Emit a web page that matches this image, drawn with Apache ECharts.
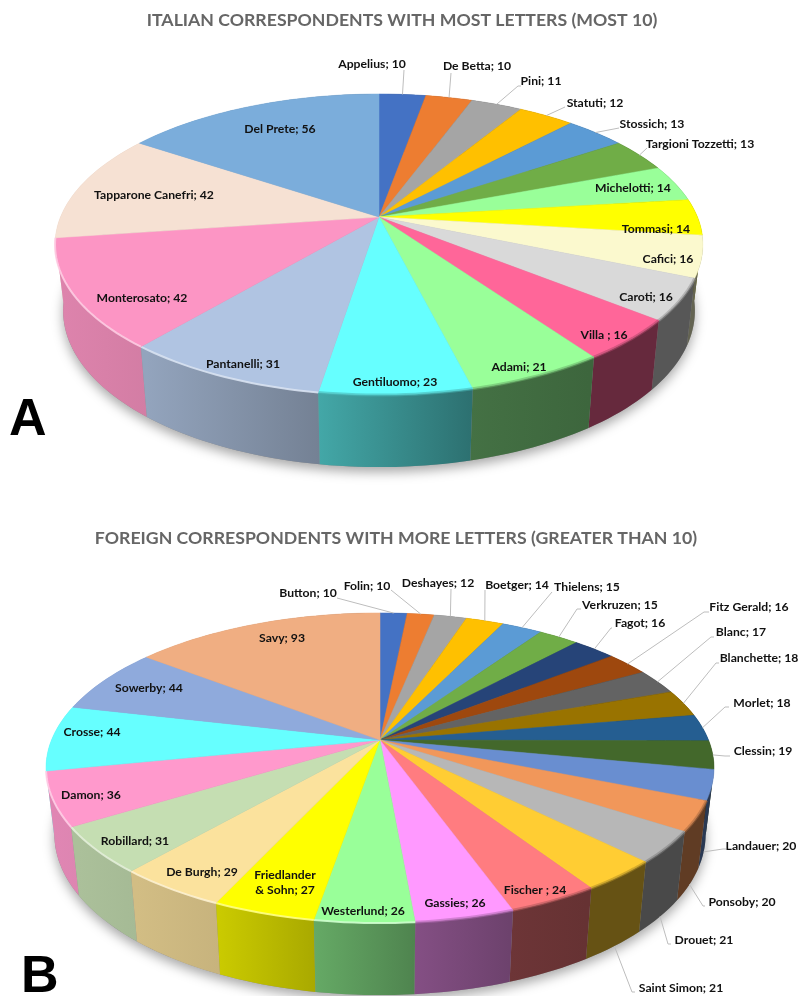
<!DOCTYPE html>
<html>
<head>
<meta charset="utf-8">
<title>Correspondents</title>
<script src="https://cdn.jsdelivr.net/npm/echarts@6/dist/echarts.min.js"></script>
<style>
  html, body { margin: 0; padding: 0; background: #fff; }
  #chart { width: 808px; height: 996px; }
</style>
</head>
<body>
<div id="chart"></div>
<script>
// chart A data, clockwise from 12 o'clock
const namesA = ['Appelius', 'De Betta', 'Pini', 'Statuti', 'Stossich', 'Targioni Tozzetti', 'Michelotti', 'Tommasi',
  'Cafici', 'Caroti', 'Villa ', 'Adami', 'Gentiluomo', 'Pantanelli', 'Monterosato', 'Tapparone Canefri', 'Del Prete'];
const valuesA = [10, 10, 11, 12, 13, 13, 14, 14, 16, 16, 16, 21, 23, 31, 42, 42, 56];
const colorsA = ['#4472C4', '#ED7D31', '#A5A5A5', '#FFC000', '#5B9BD5', '#70AD47', '#99FF99', '#FFFF00',
  '#FBF9CE', '#D9D9D9', '#FF6699', '#99FF99', '#66FFFF', '#B0C4E2', '#FC95C4', '#F6E1D3', '#7BADDB'];

// chart B data
const namesB = ['Button', 'Folin', 'Deshayes', 'Boetger', 'Thielens', 'Verkruzen', 'Fagot', 'Fitz Gerald', 'Blanc',
  'Blanchette', 'Morlet', 'Clessin', 'Landauer', 'Ponsoby', 'Drouet', 'Saint Simon', 'Fischer ', 'Gassies', 'Westerlund',
  'Friedlander\n& Sohn', 'De Burgh', 'Robillard', 'Damon', 'Crosse', 'Sowerby', 'Savy'];
const valuesB = [10, 10, 12, 14, 15, 15, 16, 16, 17, 18, 18, 19, 20, 20, 21, 21, 24, 26, 26, 27, 29, 31, 36, 44, 44, 93];
const colorsB = ['#4472C4', '#ED7D31', '#A5A5A5', '#FFC000', '#5B9BD5', '#70AD47', '#264478', '#9E480E', '#636363',
  '#997300', '#255E91', '#43682B', '#698ED0', '#F1975A', '#B7B7B7', '#FFCD33', '#FF7C80', '#FF99FF', '#99FF99',
  '#FFFF00', '#FBE29D', '#C5DEB2', '#FF99CC', '#66FFFF', '#8FAADC', '#F0AE82'];

// label centres in page pixels
const labelPosA = [[372, 64], [477, 66], [541, 81], [595, 103], [652, 124], [700, 144], [633, 188], [656, 229],
  [668, 259], [646, 297], [604, 335], [519, 367], [395, 382], [243, 364], [142, 298], [154, 195], [280, 129]];
const labelPosB = [[308, 593], [367, 586], [438, 583], [517, 585], [587, 587], [620, 605], [640, 623], [749, 607],
  [741, 632], [759, 658], [762, 703], [763, 751], [761, 846], [742, 902], [704, 940], [681, 988], [535, 890], [455, 903],
  [363, 911], [285, 883], [202, 872], [135, 841], [91, 795], [92, 732], [149, 688], [282, 638]];

// leader line bends, null = label sits on the slice
const leadersA = [[[404, 70]], [[451, 73]], [[518, 86], [521, 86]], [[565, 107]], [[619, 128]], [[647, 148]],
  null, null, null, null, null, null, null, null, null, null, null];
const leadersB = [[[337, 598]], [[391, 590]], [[451, 589]], [[485, 590]], [[552, 592]], [[577, 609], [581, 609]],
  [[611, 628], [612, 628]], [[704, 612], [709, 612]], [[711, 637], [714, 637]], [[716, 663], [719, 663]],
  [[725, 707], [729, 707]], [[725, 756], [730, 756]], [[723, 849], [726, 849]], [[703, 906], [705, 906]],
  [[668, 944], [671, 944]], [[632, 992], [635, 992]], null, null, null, null, null, null, null, null, null, null];

// how dark the wall gets from left (u=-1) to right (u=1)
const wallShade = [[-1, 0.88], [-0.5, 0.8], [-0.15, 0.64], [0.25, 0.45], [0.6, 0.4], [1, 0.4]];

function shadeAt(u) {
  for (let i = 1; i < wallShade.length; i++) {
    if (u <= wallShade[i][0]) {
      const a = wallShade[i - 1], b = wallShade[i];
      return a[1] + (b[1] - a[1]) * (u - a[0]) / (b[0] - a[0]);
    }
  }
  return 0.4;
}

function shade(hex, f) {
  const n = parseInt(hex.slice(1), 16);
  const c = [n >> 16, (n >> 8) & 255, n & 255].map(v => Math.round(v * f));
  return 'rgb(' + c.join(',') + ')';
}

function tint(hex, t) {
  const n = parseInt(hex.slice(1), 16);
  const c = [n >> 16, (n >> 8) & 255, n & 255].map(v => Math.round(v + (255 - v) * t));
  return 'rgb(' + c.join(',') + ')';
}

// disc seen in perspective: the centre of the pie sits above the centre of the ellipse
function topPoint(g, deg) {
  const a = deg * Math.PI / 180;
  const u = Math.sin(a), v = -Math.cos(a), d = 1 - g.k * v;
  return [g.cx + g.R * u / d, g.cy + g.S * v / d];
}

function bottomPoint(g, deg) {
  const p = topPoint(g, deg);
  const v = -Math.cos(deg * Math.PI / 180);
  return [g.cx + (p[0] - g.cx) * 0.975, p[1] + g.h * (0.9 + 0.1 * v)];
}

function arc(g, from, to, fn) {
  const n = Math.max(2, Math.ceil((to - from) / 1.5));
  const pts = [];
  for (let i = 0; i <= n; i++) pts.push(fn(g, from + (to - from) * i / n));
  return pts;
}

function buildPie(g, names, values, colors, labelPos, leaders) {
  const total = values.reduce((s, v) => s + v, 0);
  let run = 0;
  const slices = values.map((v, i) => {
    const row = [run / total * 360, (run + v) / total * 360, i];
    run += v;
    return row;
  });
  const backToFront = slices.slice().sort((p, q) =>
    Math.abs((p[0] + p[1]) / 2 - 180) < Math.abs((q[0] + q[1]) / 2 - 180) ? 1 : -1);

  const shadow = {
    type: 'custom', coordinateSystem: 'none', silent: true, animation: false, z: 1,
    data: [[0]],
    renderItem: () => ({
      type: 'polygon',
      shape: { points: arc(g, 0, 360, bottomPoint) },
      style: { fill: '#8d8d8d', shadowBlur: 12, shadowColor: 'rgba(0,0,0,0.35)', shadowOffsetY: 5 }
    })
  };

  const walls = {
    type: 'custom', coordinateSystem: 'none', silent: true, animation: false, z: 2,
    data: backToFront,
    renderItem: (params, api) => {
      const from = api.value(0), to = api.value(1), c = colors[api.value(2)];
      const top = arc(g, from, to, topPoint), bottom = arc(g, from, to, bottomPoint);
      const x0 = bottom[0][0], x1 = bottom[bottom.length - 1][0];
      const u0 = (x0 - g.cx) / g.R, u1 = (x1 - g.cx) / g.R;
      return {
        type: 'polygon',
        shape: { points: top.concat(bottom.reverse()) },
        style: {
          fill: new echarts.graphic.LinearGradient(x0, 0, x1 === x0 ? x0 + 1 : x1, 0, [
            { offset: 0, color: shade(c, shadeAt(u0)) },
            { offset: 1, color: shade(c, shadeAt(u1)) }
          ], true)
        }
      };
    }
  };

  const tops = {
    type: 'custom', coordinateSystem: 'none', silent: true, animation: false, z: 3,
    data: slices,
    renderItem: (params, api) => {
      const from = api.value(0), to = api.value(1), c = colors[api.value(2)];
      const rim = arc(g, from, to, topPoint);
      const mid = (from + to) / 2;
      const kids = [{
        type: 'polygon',
        shape: { points: [[g.cx, g.cy]].concat(rim) },
        style: { fill: c, stroke: c, lineWidth: 0.5 }
      }];
      if (mid > 115 && mid < 262) {
        // bevel on the front edge, pale on the lit side and dark on the other
        const lit = mid > 180;
        kids.push({
          type: 'polyline',
          shape: { points: rim },
          style: { fill: null, stroke: lit ? tint(c, 0.55) : shade(c, 0.7), lineWidth: lit ? 2 : 3, opacity: lit ? 0.85 : 0.55 }
        });
      }
      return { type: 'group', children: kids };
    }
  };

  const labels = {
    type: 'custom', coordinateSystem: 'none', silent: true, animation: false, z: 4,
    data: slices,
    renderItem: (params, api) => {
      const i = api.value(2), mid = (api.value(0) + api.value(1)) / 2;
      const kids = [];
      if (leaders[i]) {
        const start = mid > 100 && mid < 260 ? bottomPoint(g, mid) : topPoint(g, mid);
        kids.push({
          type: 'polyline',
          shape: { points: [start].concat(leaders[i]) },
          style: { fill: null, stroke: '#bdbdbd', lineWidth: 1 }
        });
      }
      kids.push({
        type: 'text',
        x: labelPos[i][0], y: labelPos[i][1],
        style: {
          text: names[i] + '; ' + values[i],
          fill: '#111', font: 'bold 12.2px Lato', align: 'center', verticalAlign: 'middle', lineHeight: 15
        }
      });
      return { type: 'group', children: kids };
    }
  };

  return [shadow, walls, tops, labels];
}

const pieA = { cx: 379, cy: 217, R: 318.5, S: 145.5, k: 0.183, h: 72 };
const pieB = { cx: 380, cy: 740, R: 328.5, S: 150, k: 0.1806, h: 72 };

const titleStyle = { color: '#666', fontFamily: 'Lato', fontWeight: 'bold', fontSize: 17.7 };
const letterStyle = { color: '#000', fontFamily: 'Liberation Sans', fontWeight: 'bold', fontSize: 52 };

const myChart = echarts.init(document.getElementById('chart'), null, { renderer: 'canvas' });
myChart.setOption({
  animation: false,
  title: [
    { text: 'ITALIAN CORRESPONDENTS WITH MOST LETTERS (MOST 10)', left: 397, top: 6, textAlign: 'center', textStyle: titleStyle },
    { text: 'FOREIGN CORRESPONDENTS WITH MORE LETTERS (GREATER THAN 10)', left: 391, top: 524, textAlign: 'center', textStyle: titleStyle },
    { text: 'A', left: 4, top: 390, textStyle: letterStyle },
    { text: 'B', left: 16, top: 947, textStyle: letterStyle }
  ],
  series: buildPie(pieA, namesA, valuesA, colorsA, labelPosA, leadersA)
    .concat(buildPie(pieB, namesB, valuesB, colorsB, labelPosB, leadersB))
});
</script>
</body>
</html>
